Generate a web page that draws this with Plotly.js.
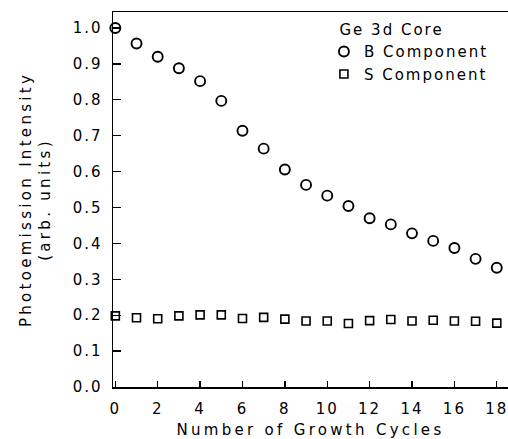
<!DOCTYPE html>
<html>
<head>
<meta charset="utf-8">
<script src="https://cdn.plot.ly/plotly-3.0.1.min.js"></script>
<style>
  html, body { margin: 0; padding: 0; background: #fff; overflow: hidden; }
  #chart { width: 508px; height: 439px; }
  .xtick text, .ytick text, .legendtext, .legendtitletext { letter-spacing: 2px; }
  .xtitle, .ytitle { letter-spacing: 3.3px; }
</style>
</head>
<body>
<div id="chart"></div>
<script>
// Data
const cycles = [0, 1, 2, 3, 4, 5, 6, 7, 8, 9, 10, 11, 12, 13, 14, 15, 16, 17, 18];
const bComponent = [1.000, 0.957, 0.920, 0.888, 0.852, 0.797, 0.714, 0.664, 0.606, 0.563,
                    0.533, 0.504, 0.470, 0.453, 0.428, 0.407, 0.387, 0.357, 0.332];
const sComponent = [0.198, 0.193, 0.190, 0.198, 0.201, 0.201, 0.191, 0.194, 0.189, 0.184,
                    0.184, 0.177, 0.185, 0.188, 0.184, 0.186, 0.184, 0.183, 0.178];
const seriesNames = ['B Component', 'S Component'];
const legendTitle = '\u00A0\u00A0Ge 3d Core';
const xTitle = 'Number of Growth Cycles';
const yTitle = 'Photoemission Intensity<br>(arb. units)';
const xTicks = [0, 2, 4, 6, 8, 10, 12, 14, 16, 18];
const yTicks = [0, 0.1, 0.2, 0.3, 0.4, 0.5, 0.6, 0.7, 0.8, 0.9, 1.0];

const FONT = 'DejaVu Sans, Arial, sans-serif';

const traces = [
  {
    x: cycles, y: bComponent, name: seriesNames[0],
    type: 'scatter', mode: 'markers', cliponaxis: false,
    marker: { symbol: 'circle-open', size: 10, color: '#000', line: { width: 1.9, color: '#000' } }
  },
  {
    x: cycles, y: sComponent, name: seriesNames[1],
    type: 'scatter', mode: 'markers', cliponaxis: false,
    marker: { symbol: 'square-open', size: 8, color: '#000', line: { width: 1.6, color: '#000' } }
  }
];

const layout = {
  width: 508, height: 439,
  margin: { l: 113, r: 0, t: 12, b: 52, pad: 0 },
  paper_bgcolor: '#fff', plot_bgcolor: '#fff',
  font: { family: FONT, size: 15, color: '#000' },
  showlegend: true,
  legend: {
    x: 0.534, y: 0.99, xanchor: 'left', yanchor: 'top',
    bgcolor: 'rgba(0,0,0,0)', borderwidth: 0,
    title: { text: legendTitle, side: 'top', font: { family: FONT, size: 15, color: '#000' } },
    font: { family: FONT, size: 15, color: '#000' }
  },
  xaxis: {
    range: [-0.11, 18.53],
    tickmode: 'array', tickvals: xTicks,
    ticks: 'inside', ticklen: 6, tickwidth: 1.3, tickcolor: '#000',
    showline: true, linecolor: '#000', linewidth: 1.5, mirror: true,
    showgrid: false, zeroline: false,
    ticklabeloverflow: 'allow',
    tickfont: { family: FONT, size: 15, color: '#000' },
    ticklabelstandoff: 7,
    title: { text: xTitle, standoff: 10, font: { family: FONT, size: 15, color: '#000' } }
  },
  yaxis: {
    range: [0, 1.0446],
    tickmode: 'array', tickvals: yTicks,
    tickformat: '.1f',
    ticks: 'inside', ticklen: 8, tickwidth: 1.3, tickcolor: '#000',
    showline: true, linecolor: '#000', linewidth: 1.5, mirror: false,
    showgrid: false, zeroline: false,
    tickfont: { family: FONT, size: 15, color: '#000' },
    ticklabelstandoff: 6,
    title: { text: yTitle, standoff: 18, font: { family: FONT, size: 15, color: '#000' } }
  }
};

Plotly.newPlot('chart', traces, layout, { displayModeBar: false, staticPlot: true });
</script>
</body>
</html>
